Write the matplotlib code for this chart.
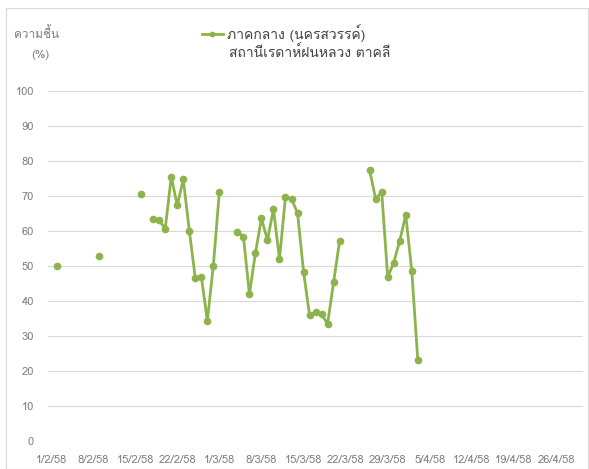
import matplotlib
matplotlib.use("Agg")
import matplotlib.pyplot as plt
from matplotlib import font_manager
from matplotlib.ft2font import FT2Font
from matplotlib.patches import Rectangle
import numpy as np
import pandas as pd

# humidity readings (%), Takhli royal rain radar station
dates = ["2015-02-02", "2015-02-09", "2015-02-16",
         "2015-02-18", "2015-02-19", "2015-02-20", "2015-02-21", "2015-02-22",
         "2015-02-23", "2015-02-24", "2015-02-25", "2015-02-26", "2015-02-27",
         "2015-02-28", "2015-03-01",
         "2015-03-04", "2015-03-05", "2015-03-06", "2015-03-07", "2015-03-08",
         "2015-03-09", "2015-03-10", "2015-03-11", "2015-03-12", "2015-03-13",
         "2015-03-14", "2015-03-15", "2015-03-16", "2015-03-17", "2015-03-18",
         "2015-03-19", "2015-03-20", "2015-03-21",
         "2015-03-26", "2015-03-27", "2015-03-28", "2015-03-29", "2015-03-30",
         "2015-03-31", "2015-04-01", "2015-04-02", "2015-04-03"]
humidity = [50.0, 52.8, 70.5,
            63.3, 62.9, 60.6, 75.4, 67.2,
            74.7, 60.0, 46.4, 46.9, 34.3,
            50.0, 71.1,
            59.7, 58.3, 41.9, 53.6, 63.5,
            57.3, 66.1, 51.9, 69.7, 69.0,
            65.1, 48.3, 35.9, 36.7, 36.1,
            33.4, 45.3, 57.1,
            77.3, 69.0, 71.1, 46.7, 50.9,
            57.1, 64.5, 48.6, 23.1]
tick_dates = ["2015-02-01", "2015-02-08", "2015-02-15", "2015-02-22", "2015-03-01",
              "2015-03-08", "2015-03-15", "2015-03-22", "2015-03-29", "2015-04-05",
              "2015-04-12", "2015-04-19", "2015-04-26"]
tick_labels = ["1/2/58", "8/2/58", "15/2/58", "22/2/58", "1/3/58", "8/3/58",
               "15/3/58", "22/3/58", "29/3/58", "5/4/58", "12/4/58", "19/4/58", "26/4/58"]
series_name = "ภาคกลาง (นครสวรรค์)"
title_text = "สถานีเรดาห์ฝนหลวง ตาคลี"
y_title = "ความชื้น"

# find a font that can draw Thai
thai_font = None
for f in font_manager.fontManager.ttflist:
    try:
        if ord("ก") in FT2Font(f.fname).get_charmap():
            thai_font = f.name
            break
    except Exception:
        pass
fams = [thai_font, "DejaVu Sans"] if thai_font else ["DejaVu Sans"]
plt.rcParams["font.family"] = fams

s = pd.Series(humidity, index=pd.to_datetime(dates))
s = s.reindex(pd.date_range("2015-02-01", "2015-04-30", freq="D"))

fig = plt.figure(figsize=(5.89, 4.69), dpi=100)
ax = fig.add_axes([0.0815, 0.06, 0.9085, 0.747])

green = "#8db44c"
ax.plot(s.index, s.values, color=green, lw=2, marker="o", ms=4.5, label=series_name)

ax.set_ylim(0, 100)
ax.set_yticks(np.arange(0, 101, 10))
ax.set_xlim(pd.Timestamp("2015-01-31 12:00"), pd.Timestamp("2015-04-30 12:00"))
ax.set_xticks(pd.to_datetime(tick_dates))
ax.set_xticklabels(tick_labels)
ax.grid(axis="y", color="#d9d9d9", lw=0.8)
ax.set_axisbelow(True)
for sp in ax.spines.values():
    sp.set_visible(False)
ax.tick_params(length=0, colors="#7f7f7f", labelsize=8)
ax.tick_params(axis="y", pad=10)
ax.tick_params(axis="x", pad=10)

fig.text(14 / 589, 1 - 33 / 469, y_title, fontsize=8.5, color="#7f7f7f", va="center", ha="left")
fig.text(40 / 589, 1 - 55 / 469, "(%)", fontsize=8.5, color="#7f7f7f", va="center", ha="center")

leg = ax.legend(loc="center left", bbox_to_anchor=(202 / 589, 1 - 33 / 469),
                bbox_transform=fig.transFigure, frameon=False, fontsize=10,
                handlelength=1.5, handletextpad=0.3, borderaxespad=0, borderpad=0,
                markerscale=0.7)
for t in leg.get_texts():
    t.set_color("#404040")
fig.text(229 / 589, 1 - 53 / 469, title_text, fontsize=10, color="#404040", va="center", ha="left")

fig.patches.append(Rectangle((6 / 589, 0), 582 / 589, 1 - 8 / 469, transform=fig.transFigure,
                             fill=False, edgecolor="#d9d9d9", lw=0.8))

fig.savefig("out.png", dpi=100)
